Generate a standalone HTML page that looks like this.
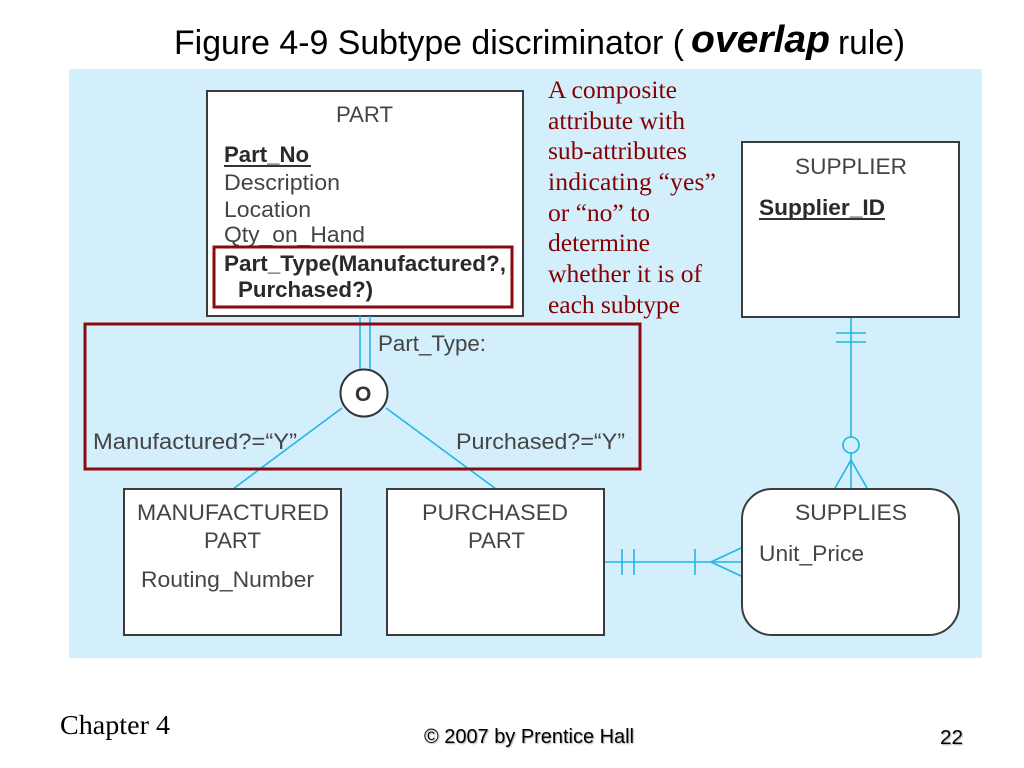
<!DOCTYPE html>
<html><head><meta charset="utf-8"><style>
html,body{margin:0;padding:0;background:#fff}
svg{display:block}
.s{font-family:"Liberation Sans",sans-serif;fill:#444;font-size:22px}
.b{font-weight:bold;fill:#2a2a2a}
.r{font-family:"Liberation Serif",serif;fill:#850000;font-size:25.6px}
.box{fill:#fff;stroke:#3c3c3c;stroke-width:2}
.c{stroke:#22b5e6;stroke-width:1.6;fill:none}
.sh{filter:drop-shadow(1px 1px 0.5px #aaa)}
</style></head><body>
<svg width="1024" height="768" viewBox="0 0 1024 768" xmlns="http://www.w3.org/2000/svg">
<rect width="1024" height="768" fill="#fff"/>
<rect x="69" y="69" width="913" height="589" fill="#d3effc"/>
<text x="174" y="54" font-family="Liberation Sans, sans-serif" font-size="34" fill="#000" textLength="510" lengthAdjust="spacingAndGlyphs">Figure 4-9 Subtype discriminator (</text>
<text x="691" y="52" font-family="Liberation Sans, sans-serif" font-size="38" font-weight="bold" font-style="italic" fill="#000" textLength="139" lengthAdjust="spacingAndGlyphs">overlap</text>
<text x="838" y="54" font-family="Liberation Sans, sans-serif" font-size="34" fill="#000" textLength="67" lengthAdjust="spacingAndGlyphs">rule)</text>

<rect class="box" x="207" y="91" width="316" height="225"/>
<text class="s" x="336" y="122" textLength="57" lengthAdjust="spacingAndGlyphs">PART</text>
<text class="s b" x="224" y="162" textLength="85" lengthAdjust="spacingAndGlyphs">Part_No</text>
<line x1="224" y1="166" x2="311" y2="166" stroke="#333" stroke-width="2"/>
<text class="s" x="224" y="190" textLength="116" lengthAdjust="spacingAndGlyphs">Description</text>
<text class="s" x="224" y="217" textLength="87" lengthAdjust="spacingAndGlyphs">Location</text>
<text class="s" x="224" y="242" textLength="141" lengthAdjust="spacingAndGlyphs">Qty_on_Hand</text>
<text class="s b" x="224" y="271" textLength="282" lengthAdjust="spacingAndGlyphs">Part_Type(Manufactured?,</text>
<text class="s b" x="238" y="297" textLength="135" lengthAdjust="spacingAndGlyphs">Purchased?)</text>
<rect x="214" y="247" width="298" height="60" fill="none" stroke="#8b0a0f" stroke-width="3"/>

<rect class="box" x="742" y="142" width="217" height="175"/>
<text class="s" x="795" y="174" textLength="112" lengthAdjust="spacingAndGlyphs">SUPPLIER</text>
<text class="s b" x="759" y="215" textLength="126" lengthAdjust="spacingAndGlyphs">Supplier_ID</text>
<line x1="759" y1="219" x2="885" y2="219" stroke="#333" stroke-width="2"/>

<text class="r" x="548" y="98" textLength="129">A composite</text>
<text class="r" x="548" y="129" textLength="137">attribute with</text>
<text class="r" x="548" y="159" textLength="139">sub-attributes</text>
<text class="r" x="548" y="190" textLength="168">indicating “yes”</text>
<text class="r" x="548" y="221" textLength="102">or “no” to</text>
<text class="r" x="548" y="251" textLength="102">determine</text>
<text class="r" x="548" y="282" textLength="154">whether it is of</text>
<text class="r" x="548" y="313" textLength="132">each subtype</text>

<line class="c" x1="360" y1="316" x2="360" y2="372"/>
<line class="c" x1="370" y1="316" x2="370" y2="372"/>
<text class="s" x="378" y="351" textLength="108" lengthAdjust="spacingAndGlyphs">Part_Type:</text>
<text class="s" x="93" y="449" textLength="204" lengthAdjust="spacingAndGlyphs">Manufactured?=“Y”</text>
<text class="s" x="456" y="449" textLength="169" lengthAdjust="spacingAndGlyphs">Purchased?=“Y”</text>
<line class="c" x1="342" y1="408" x2="233" y2="489"/>
<line class="c" x1="386" y1="408" x2="496" y2="489"/>
<circle cx="364" cy="393" r="23.5" fill="#fff" stroke="#333" stroke-width="2"/>
<text x="355" y="401" font-family="Liberation Sans, sans-serif" font-size="21" font-weight="bold" fill="#333">O</text>
<rect x="85" y="324" width="555" height="145" fill="none" stroke="#8b0a0f" stroke-width="3"/>

<rect class="box" x="124" y="489" width="217" height="146"/>
<text class="s" x="137" y="520" textLength="192" lengthAdjust="spacingAndGlyphs">MANUFACTURED</text>
<text class="s" x="204" y="548" textLength="57" lengthAdjust="spacingAndGlyphs">PART</text>
<text class="s" x="141" y="587" textLength="173" lengthAdjust="spacingAndGlyphs">Routing_Number</text>

<rect class="box" x="387" y="489" width="217" height="146"/>
<text class="s" x="422" y="520" textLength="146" lengthAdjust="spacingAndGlyphs">PURCHASED</text>
<text class="s" x="468" y="548" textLength="57" lengthAdjust="spacingAndGlyphs">PART</text>

<rect class="box" x="742" y="489" width="217" height="146" rx="30" ry="30"/>
<text class="s" x="795" y="520" textLength="112" lengthAdjust="spacingAndGlyphs">SUPPLIES</text>
<text class="s" x="759" y="561" textLength="105" lengthAdjust="spacingAndGlyphs">Unit_Price</text>

<line class="c" x1="851" y1="318" x2="851" y2="437"/>
<line class="c" x1="836" y1="333" x2="866" y2="333"/>
<line class="c" x1="836" y1="342" x2="866" y2="342"/>
<circle class="c" cx="851" cy="445" r="8"/>
<line class="c" x1="851" y1="453" x2="851" y2="488"/>
<line class="c" x1="851" y1="460" x2="835" y2="488"/>
<line class="c" x1="851" y1="460" x2="867" y2="488"/>

<line class="c" x1="605" y1="562" x2="741" y2="562"/>
<line class="c" x1="622" y1="549" x2="622" y2="575"/>
<line class="c" x1="634" y1="549" x2="634" y2="575"/>
<line class="c" x1="695" y1="549" x2="695" y2="575"/>
<line class="c" x1="711" y1="562" x2="741" y2="548"/>
<line class="c" x1="711" y1="562" x2="741" y2="576"/>

<text x="60" y="734" font-family="Liberation Serif, serif" font-size="27" fill="#000" textLength="110" lengthAdjust="spacingAndGlyphs">Chapter 4</text>
<text class="sh" x="424" y="743" font-family="Liberation Sans, sans-serif" font-size="20" fill="#000" textLength="210" lengthAdjust="spacingAndGlyphs">© 2007 by Prentice Hall</text>
<text class="sh" x="940" y="744" font-family="Liberation Sans, sans-serif" font-size="20" fill="#000" textLength="23" lengthAdjust="spacingAndGlyphs">22</text>
</svg>
</body></html>
